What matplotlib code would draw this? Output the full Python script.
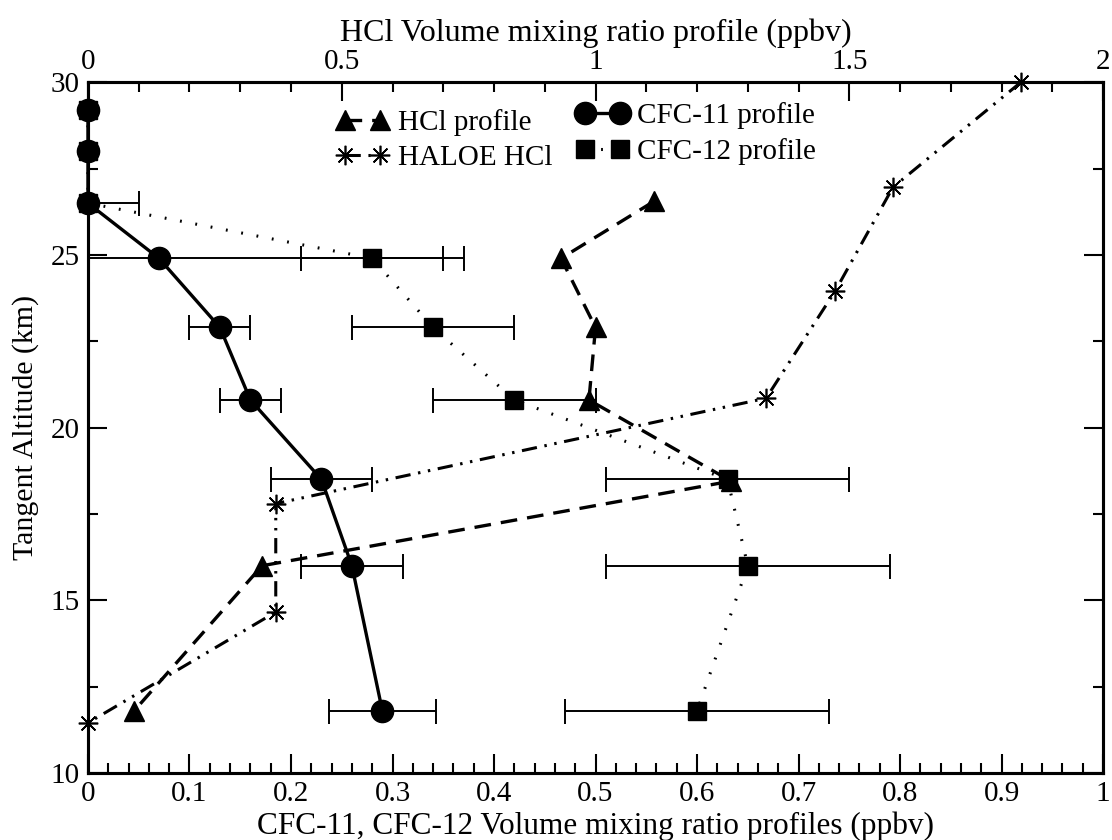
import numpy as np
import matplotlib
matplotlib.use("Agg")
import matplotlib.pyplot as plt
from matplotlib.ticker import MultipleLocator

plt.rcParams['font.family'] = ['Liberation Serif', 'DejaVu Serif']

# CFC-11 / CFC-12 (bottom axis, ppbv)
alt_cfc = [29.2, 28.0, 26.5, 24.9, 22.9, 20.8, 18.5, 16.0, 11.8]
cfc11 = [0.0, 0.0, 0.0, 0.07, 0.13, 0.16, 0.23, 0.26, 0.29]
cfc11_err = [0.0, 0.0, 0.05, 0.30, 0.03, 0.03, 0.05, 0.05, 0.053]
cfc12 = [0.0, 0.0, 0.0, 0.28, 0.34, 0.42, 0.63, 0.65, 0.60]
cfc12_err = [0.0, 0.0, 0.0, 0.07, 0.08, 0.08, 0.12, 0.14, 0.13]

# HCl (top axis, ppbv)
alt_hcl = [26.55, 24.9, 22.9, 20.8, 18.45, 16.0, 11.8]
hcl = [1.115, 0.932, 1.0, 0.987, 1.267, 0.343, 0.091]

alt_haloe = [30.0, 26.96, 23.95, 20.85, 17.8, 14.66, 11.45]
haloe = [1.838, 1.586, 1.472, 1.336, 0.37, 0.37, 0.0]

fig = plt.figure(figsize=(11.12, 8.4), dpi=100)
ax = fig.add_axes([0.0791, 0.0798, 0.9129, 0.8223])
ax2 = ax.twiny()

fs = 21

# error bars (thin)
ax.errorbar(cfc11, alt_cfc, xerr=cfc11_err, fmt='none', ecolor='black',
            elinewidth=1.4, capsize=9, capthick=1.4, zorder=2)
ax.errorbar(cfc12, alt_cfc, xerr=cfc12_err, fmt='none', ecolor='black',
            elinewidth=1.4, capsize=9, capthick=1.4, zorder=2)

l11, = ax.plot(cfc11, alt_cfc, '-', color='black', lw=2.4, marker='o',
               ms=16, zorder=4, clip_on=False, label='CFC-11 profile')
l12, = ax.plot(cfc12, alt_cfc, color='black', lw=2.2, ls=(0, (0.6, 4.5)),
               marker='s', ms=13, zorder=5, clip_on=False,
               label='CFC-12 profile')

lh, = ax2.plot(hcl, alt_hcl, color='black', lw=2.4, ls=(0, (5, 3)),
               marker='^', ms=15, zorder=4, clip_on=False,
               label='HCl profile')
lha, = ax2.plot(haloe, alt_haloe, color='black', lw=2.2,
                ls=(0, (5, 2.5, 0.8, 2.5, 0.8, 2.5)),
                marker=(8, 2, 0), ms=14, mew=1.2, zorder=4, clip_on=False,
                label='HALOE HCl')

ax.set_xlim(0, 1)
ax.set_ylim(10, 30)
ax2.set_xlim(0, 2)

ax.xaxis.set_minor_locator(MultipleLocator(0.02))
ax.yaxis.set_major_locator(MultipleLocator(5))
ax.yaxis.set_minor_locator(MultipleLocator(2.5))
ax2.xaxis.set_minor_locator(MultipleLocator(0.1))

ax.set_xticks(np.arange(0, 1.01, 0.1))
ax.set_xticklabels(['0', '0.1', '0.2', '0.3', '0.4', '0.5', '0.6', '0.7',
                    '0.8', '0.9', '1'])
ax2.set_xticks([0, 0.5, 1, 1.5, 2])
ax2.set_xticklabels(['0', '0.5', '1', '1.5', '2'])

ax.tick_params(which='both', direction='in', right=True, labelsize=fs,
               width=1.5, pad=6)
ax.tick_params(which='major', length=14)
ax.tick_params(which='minor', length=7)
ax.tick_params(axis='x', which='both', top=False)
ax2.tick_params(which='both', direction='in', labelsize=fs, width=1.5, pad=5)
ax2.tick_params(which='major', length=14)
ax2.tick_params(which='minor', length=7)

for a in (ax, ax2):
    for s in a.spines.values():
        s.set_linewidth(2.2)

ax.set_xlabel('CFC-11, CFC-12 Volume mixing ratio profiles (ppbv)',
              fontsize=22.5, labelpad=3)
ax.set_ylabel('Tangent Altitude (km)', fontsize=21.5, labelpad=8)
ax2.set_xlabel('HCl Volume mixing ratio profile (ppbv)', fontsize=23,
               labelpad=6)

fig.legend(handles=[lh, lha], loc='upper left',
           bbox_to_anchor=(0.292, 0.884), frameon=False, fontsize=fs,
           numpoints=2, handlelength=1.8, handletextpad=0.3,
           labelspacing=0.3, borderaxespad=0)
fig.legend(handles=[l11, l12], loc='upper left',
           bbox_to_anchor=(0.5075, 0.892), frameon=False, fontsize=fs,
           numpoints=2, handlelength=1.8, handletextpad=0.3,
           labelspacing=0.3, borderaxespad=0)

fig.savefig('out.png', dpi=100)
